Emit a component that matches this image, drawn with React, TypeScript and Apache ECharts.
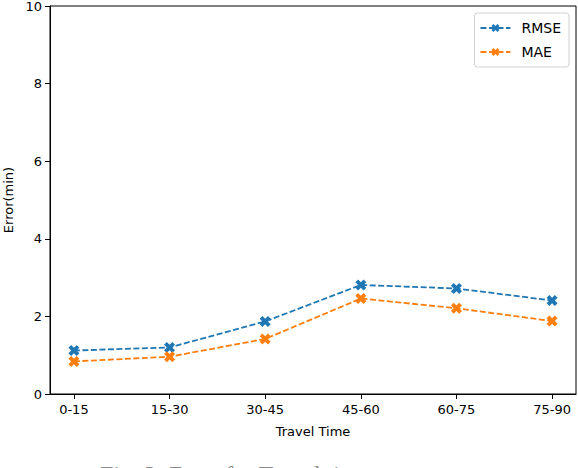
import React, { useEffect, useRef } from 'react';
import * as echarts from 'echarts';

// ---- data ----
const categories = ['0-15', '15-30', '30-45', '45-60', '60-75', '75-90'];
const rmseValues = [1.12, 1.2, 1.87, 2.81, 2.72, 2.41];
const maeValues = [0.84, 0.96, 1.42, 2.46, 2.21, 1.88];
const yTicks = [0, 2, 4, 6, 8, 10];

const FONT = '"DejaVu Sans", sans-serif';
const BLUE = '#1f77b4';
const ORANGE = '#ff7f0e';

// filled "X" marker like matplotlib's marker='X'
const X_MARKER =
  'path://M0.25,0 L0.5,0.25 L0.75,0 L1,0.25 L0.75,0.5 L1,0.75 L0.75,1 L0.5,0.75 L0.25,1 L0,0.75 L0.25,0.5 L0,0.25 Z';

const toPoints = (vals: number[]) => vals.map((v, i) => [i, v]);

const App: React.FC = () => {
  const ref = useRef<HTMLDivElement>(null);

  useEffect(() => {
    if (!ref.current) return;
    const chart = echarts.init(ref.current, undefined, { renderer: 'svg' });

    const lineSeries = (name: string, vals: number[], color: string) => ({
      name,
      type: 'line',
      data: toPoints(vals),
      symbol: X_MARKER,
      symbolSize: 11,
      showAllSymbol: true,
      itemStyle: { color },
      lineStyle: { color, width: 1.8, type: [6, 2.5] },
      emphasis: { disabled: true },
    });

    chart.setOption({
      animation: false,
      textStyle: { fontFamily: FONT },
      grid: {
        left: 50,
        right: 2,
        top: 6,
        bottom: 74,
        outerBoundsMode: 'none',
        containLabel: false,
        show: true,
        borderColor: '#000',
        borderWidth: 1,
      },
      legend: {
        orient: 'vertical',
        right: 9,
        top: 13,
        padding: [8, 8, 8, 5],
        itemWidth: 30,
        itemHeight: 10,
        itemGap: 10,
        borderColor: '#d0d0d0',
        borderWidth: 1,
        borderRadius: 3,
        textStyle: { fontFamily: FONT, fontSize: 14, color: '#000', padding: [0, 0, 0, 6] },
        data: ['RMSE', 'MAE'],
      },
      xAxis: {
        type: 'value',
        min: -0.25,
        max: 5.25,
        name: 'Travel Time',
        nameLocation: 'middle',
        nameGap: 31,
        nameTextStyle: { fontFamily: FONT, fontSize: 13, color: '#000' },
        axisLine: { show: true, onZero: false, lineStyle: { color: '#000', width: 1 } },
        axisTick: {
          show: true,
          inside: false,
          length: 5,
          customValues: categories.map((_, i) => i),
          lineStyle: { color: '#000', width: 1 },
        },
        axisLabel: {
          customValues: categories.map((_, i) => i),
          formatter: (v: number) => categories[Math.round(v)] ?? '',
          fontFamily: FONT,
          fontSize: 13,
          color: '#000',
          margin: 9,
        },
        splitLine: { show: false },
      },
      yAxis: {
        type: 'value',
        min: yTicks[0],
        max: yTicks[yTicks.length - 1],
        interval: 2,
        name: 'Error(min)',
        nameLocation: 'middle',
        nameGap: 33,
        nameTextStyle: { fontFamily: FONT, fontSize: 13, color: '#000' },
        axisLine: { show: true, onZero: false, lineStyle: { color: '#000', width: 1 } },
        axisTick: { show: true, inside: false, length: 5, lineStyle: { color: '#000' } },
        axisLabel: { fontFamily: FONT, fontSize: 13, color: '#000', margin: 8 },
        splitLine: { show: false },
      },
      series: [
        lineSeries('RMSE', rmseValues, BLUE),
        lineSeries('MAE', maeValues, ORANGE),
      ],
      graphic: [
        {
          type: 'text',
          x: 100,
          y: 462,
          silent: true,
          style: {
            text: 'Fig. 3: Error for Travel time',
            font: '24px "Liberation Serif", serif',
            verticalAlign: 'top',
            fill: '#888',
          },
        },
      ],
    });

    return () => chart.dispose();
  }, []);

  return (
    <div
      ref={ref}
      style={{ position: 'fixed', left: 0, top: 0, width: 578, height: 468, background: '#fff' }}
    />
  );
};

export default App;
